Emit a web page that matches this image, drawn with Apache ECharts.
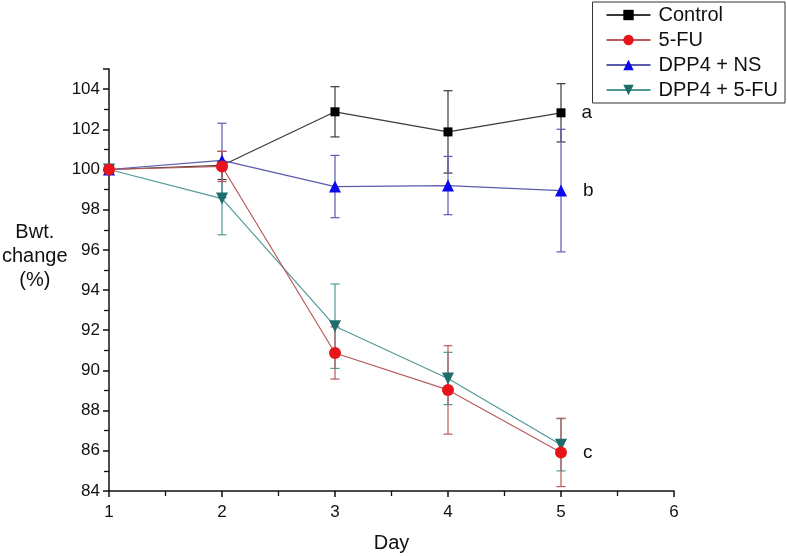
<!DOCTYPE html>
<html>
<head>
<meta charset="utf-8">
<script src="https://cdn.jsdelivr.net/npm/echarts@6/dist/echarts.min.js"></script>
<style>
html,body{margin:0;padding:0;background:#fff;}
#main{width:787px;height:556px;}
</style>
</head>
<body>
<div id="main"></div>
<script>
//数据
var days = [1, 2, 3, 4, 5];
var groupNames = ['Control', '5-FU', 'DPP4 + NS', 'DPP4 + 5-FU'];
var controlMean = [100, 100.2, 102.87, 101.87, 102.82];
var controlErr = [0, 0.7, 1.25, 2.05, 1.45];
var fuMean = [100, 100.15, 90.87, 89.03, 85.92];
var fuErr = [0, 0.75, 1.3, 2.2, 1.7];
var nsMean = [100, 100.45, 99.15, 99.2, 98.95];
var nsErr = [0, 1.85, 1.55, 1.45, 3.05];
var dppFuMean = [100, 98.55, 92.2, 89.6, 86.3];
var dppFuErr = [0, 1.8, 2.1, 1.3, 1.3];
var groupLetters = ['a', 'c', 'b', ''];

var markerColors = ['#000000', '#e8141c', '#0a0aee', '#1d6d6b'];
var lineColors = ['#3a3a3a', '#b85a5a', '#5a5aae', '#4f9a98'];
var symbols = ['rect', 'circle', 'triangle', 'path://M0,0 L10,0 L5,9 Z'];
var symbolSizes = [9, 12, 12, 12];

var means = [controlMean, fuMean, nsMean, dppFuMean];
var errs = [controlErr, fuErr, nsErr, dppFuErr];

var fontFam = 'Liberation Sans, Arial, sans-serif';

var chart = echarts.init(document.getElementById('main'));

function lineData(k) {
	return days.map(function (d, i) {
		var item = { value: [d, means[k][i]] };
		if (i === days.length - 1 && groupLetters[k]) {
			item.label = {
				show: true,
				formatter: groupLetters[k],
				position: 'right',
				distance: 16,
				color: '#111',
				fontSize: 19,
				fontFamily: fontFam
			};
		}
		return item;
	});
}

function errData(k) {
	return days.map(function (d, i) {
		return [d, means[k][i] - errs[k][i], means[k][i] + errs[k][i]];
	}).filter(function (r) { return r[2] > r[1]; });
}

function errRender(color) {
	return function (params, api) {
		var lo = api.coord([api.value(0), api.value(1)]);
		var hi = api.coord([api.value(0), api.value(2)]);
		var w = 4.5;
		var style = { stroke: color, lineWidth: 1.2 };
		return {
			type: 'group',
			children: [
				{ type: 'line', shape: { x1: hi[0], y1: hi[1], x2: lo[0], y2: lo[1] }, style: style },
				{ type: 'line', shape: { x1: hi[0] - w, y1: hi[1], x2: hi[0] + w, y2: hi[1] }, style: style },
				{ type: 'line', shape: { x1: lo[0] - w, y1: lo[1], x2: lo[0] + w, y2: lo[1] }, style: style }
			]
		};
	};
}

var series = [];
// error bars first (under lines)
[0, 2, 3, 1].forEach(function (k) {
	series.push({
		type: 'custom',
		name: groupNames[k] + ' err',
		renderItem: errRender(lineColors[k]),
		data: errData(k),
		z: 1,
		silent: true
	});
});
[0, 2, 3, 1].forEach(function (k, order) {
	series.push({
		type: 'line',
		name: groupNames[k],
		data: lineData(k),
		symbol: symbols[k],
		symbolSize: symbolSizes[k],
		showAllSymbol: true,
		lineStyle: { color: lineColors[k], width: 1.2 },
		itemStyle: { color: markerColors[k], borderWidth: 0 },
		z: 3 + order
	});
});

chart.setOption({
	animation: false,
	backgroundColor: '#fff',
	textStyle: { fontFamily: fontFam },
	grid: { left: 109, right: 113, top: 69, bottom: 65, containLabel: false, outerBoundsMode: 'none' },
	legend: {
		data: groupNames,
		orient: 'vertical',
		right: 2,
		top: 2,
		padding: [3, 7, 3, 13],
		itemGap: 5,
		itemWidth: 44,
		itemHeight: 13,
		borderColor: '#333',
		borderWidth: 1,
		textStyle: { fontSize: 20, color: '#111', padding: [0, 0, 0, 3] }
	},
	xAxis: {
		type: 'value',
		min: 1,
		max: 6,
		interval: 1,
		name: 'Day',
		nameLocation: 'middle',
		nameGap: 42,
		nameTextStyle: { fontSize: 20, color: '#111' },
		axisLine: { lineStyle: { color: '#111', width: 1.5 } },
		axisTick: { show: true, length: 6, lineStyle: { color: '#111', width: 1.5 } },
		minorTick: { show: true, splitNumber: 2, length: 5, lineStyle: { color: '#111', width: 1.3 } },
		axisLabel: { fontSize: 17, color: '#111', margin: 13 },
		splitLine: { show: false }
	},
	yAxis: {
		type: 'value',
		min: 84,
		max: 105,
		interval: 2,
		axisLine: { show: true, lineStyle: { color: '#111', width: 1.5 } },
		axisTick: { show: true, length: 6, lineStyle: { color: '#111', width: 1.5 } },
		minorTick: { show: true, splitNumber: 2, length: 5, lineStyle: { color: '#111', width: 1.3 } },
		axisLabel: { fontSize: 17, color: '#111', margin: 9, showMaxLabel: false },
		splitLine: { show: false }
	},
	graphic: [{
		type: 'text',
		left: 2,
		top: 220,
		style: {
			text: 'Bwt.\nchange\n(%)',
			x: 34,
			textAlign: 'center',
			fontSize: 20,
			lineHeight: 24,
			fill: '#111',
			fontFamily: fontFam
		}
	}],
	series: series
});
</script>
</body>
</html>
